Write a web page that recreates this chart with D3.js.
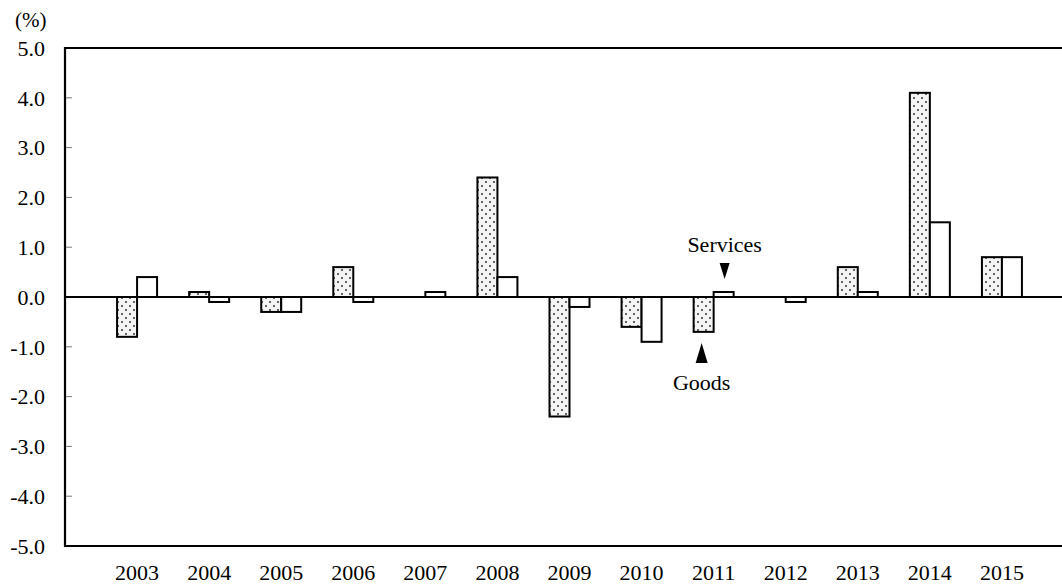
<!DOCTYPE html>
<meta charset="utf-8">
<style>
    body { margin: 0; background: #fff; }
    text { font-family: "Times New Roman", "Liberation Serif", serif; fill: #000; }
</style>
<body>
<script src="https://d3js.org/d3.v7.min.js"></script>
<script>
    var width = 1062,
        height = 586;

    // data (%)
    var years = ["2003", "2004", "2005", "2006", "2007", "2008", "2009",
                 "2010", "2011", "2012", "2013", "2014", "2015"];
    var goods = [-0.8, 0.1, -0.3, 0.6, 0.0, 2.4, -2.4, -0.6, -0.7, 0.0, 0.6, 4.1, 0.8];
    var services = [0.4, -0.1, -0.3, -0.1, 0.1, 0.4, -0.2, -0.9, 0.1, -0.1, 0.1, 1.5, 0.8];
    var yTicks = [-5, -4, -3, -2, -1, 0, 1, 2, 3, 4, 5];

    var plotLeft = 65, plotTop = 48, plotBottom = 546;
    var barW = 20;

    // plot area runs past the right edge of the picture
    var x = d3.scalePoint()
        .domain(years)
        .range([plotLeft, plotLeft + 1009])
        .padding(1);

    var y = d3.scaleLinear()
        .domain([-5, 5])
        .range([plotBottom, plotTop]);

    var svg = d3.select('body')
        .append('svg')
        .attr('width', width)
        .attr('height', height);

    // dotted fill for goods
    var pat = svg.append('defs').append('pattern')
        .attr('id', 'dots')
        .attr('patternUnits', 'userSpaceOnUse')
        .attr('width', 8)
        .attr('height', 8);
    pat.append('rect').attr('width', 8).attr('height', 8).attr('fill', '#f4f4f4');
    pat.append('circle').attr('cx', 2).attr('cy', 2).attr('r', 1).attr('fill', '#333');
    pat.append('circle').attr('cx', 6).attr('cy', 6).attr('r', 1).attr('fill', '#333');

    // inward ticks on the left axis
    svg.append('g')
        .selectAll('line')
        .data(yTicks.filter(d => d !== 0 && Math.abs(d) !== 5))
        .enter().append('line')
        .attr('x1', plotLeft).attr('x2', plotLeft + 7)
        .attr('y1', d => y(d)).attr('y2', d => y(d))
        .attr('stroke', '#777')
        .attr('stroke-width', 1);

    var fmt = d3.format('.1f');
    svg.append('g')
        .selectAll('text')
        .data(yTicks)
        .enter().append('text')
        .attr('x', 45)
        .attr('y', d => y(d))
        .attr('dy', '0.35em')
        .attr('text-anchor', 'end')
        .style('font-size', '22px')
        .text(d => fmt(d).replace('\u2212', '-'));

    svg.append('text')
        .attr('x', 15)
        .attr('y', 20)
        .attr('dy', '0.35em')
        .style('font-size', '21px')
        .text('(%)');

    // bars
    var bars = svg.append('g');
    bars.selectAll('.goods')
        .data(years)
        .enter().append('rect')
        .attr('class', 'goods')
        .attr('x', d => x(d) - barW)
        .attr('y', (d, i) => y(Math.max(0, goods[i])))
        .attr('width', barW)
        .attr('height', (d, i) => Math.abs(y(goods[i]) - y(0)))
        .attr('fill', 'url(#dots)')
        .attr('stroke', '#000')
        .attr('stroke-width', 2);

    bars.selectAll('.services')
        .data(years)
        .enter().append('rect')
        .attr('class', 'services')
        .attr('x', d => x(d))
        .attr('y', (d, i) => y(Math.max(0, services[i])))
        .attr('width', barW)
        .attr('height', (d, i) => Math.abs(y(services[i]) - y(0)))
        .attr('fill', '#fff')
        .attr('stroke', '#000')
        .attr('stroke-width', 2);

    // frame and zero line
    var frame = svg.append('g')
        .attr('stroke', '#000')
        .attr('stroke-width', 2.2);
    frame.append('line').attr('x1', plotLeft).attr('x2', width).attr('y1', plotTop).attr('y2', plotTop);
    frame.append('line').attr('x1', plotLeft).attr('x2', width).attr('y1', plotBottom).attr('y2', plotBottom);
    frame.append('line').attr('x1', plotLeft).attr('x2', plotLeft).attr('y1', plotTop - 1).attr('y2', plotBottom + 1);
    frame.append('line').attr('x1', plotLeft).attr('x2', width).attr('y1', y(0)).attr('y2', y(0));

    // year labels
    svg.append('g')
        .selectAll('text')
        .data(years)
        .enter().append('text')
        .attr('x', d => x(d))
        .attr('y', 572)
        .attr('dy', '0.35em')
        .attr('text-anchor', 'middle')
        .style('font-size', '22px')
        .text(d => d);

    // annotations on 2011
    var ax = x('2011');
    var sx = ax + barW / 2 + 1,
        gx = ax - barW / 2 - 2;

    svg.append('text')
        .attr('x', sx)
        .attr('y', 244)
        .attr('dy', '0.35em')
        .attr('text-anchor', 'middle')
        .style('font-size', '22px')
        .text('Services');
    svg.append('path')
        .attr('d', `M${sx - 5},263 L${sx + 5},263 L${sx},279 Z`)
        .attr('fill', '#000');

    svg.append('text')
        .attr('x', gx)
        .attr('y', 382)
        .attr('dy', '0.35em')
        .attr('text-anchor', 'middle')
        .style('font-size', '22px')
        .text('Goods');
    svg.append('path')
        .attr('d', `M${gx - 6},363 L${gx + 6},363 L${gx},343 Z`)
        .attr('fill', '#000');
</script>
</body>
